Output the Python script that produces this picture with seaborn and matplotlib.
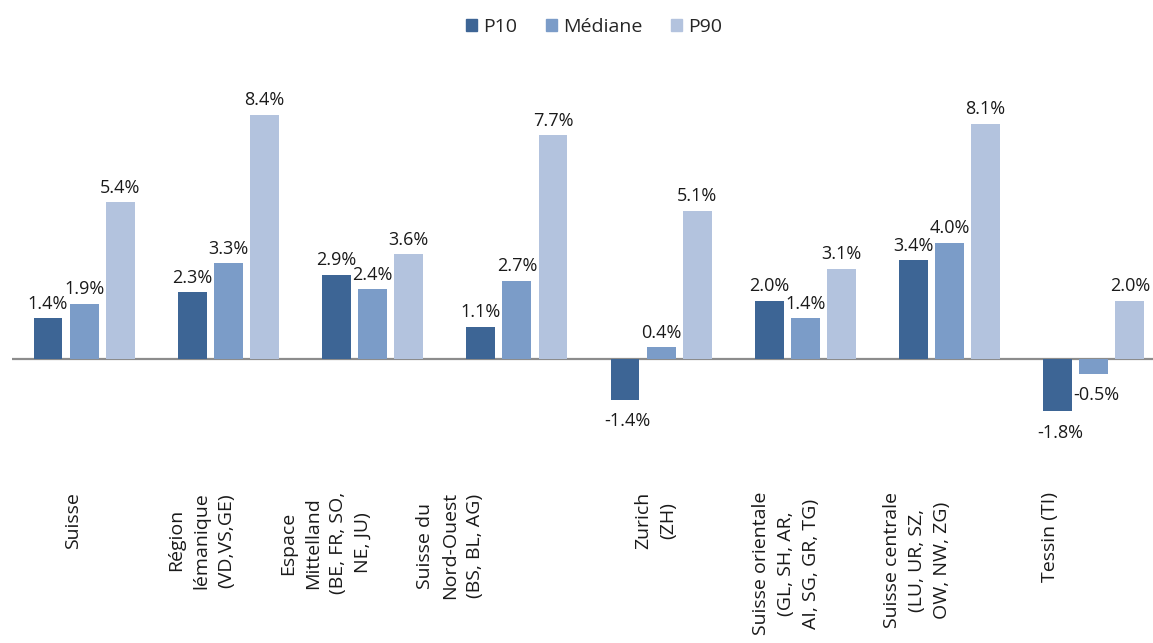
import matplotlib
matplotlib.use("Agg")
import matplotlib.pyplot as plt
import matplotlib.transforms as mtransforms
import seaborn as sns
import pandas as pd

categories = [
    "Suisse",
    "Région\nlémanique\n(VD,VS,GE)",
    "Espace\nMittelland\n(BE, FR, SO,\nNE, JU)",
    "Suisse du\nNord-Ouest\n(BS, BL, AG)",
    "Zurich\n(ZH)",
    "Suisse orientale\n(GL, SH, AR,\nAI, SG, GR, TG)",
    "Suisse centrale\n(LU, UR, SZ,\nOW, NW, ZG)",
    "Tessin (TI)",
]
series_names = ["P10", "Médiane", "P90"]
p10 = [1.4, 2.3, 2.9, 1.1, -1.4, 2.0, 3.4, -1.8]
mediane = [1.9, 3.3, 2.4, 2.7, 0.4, 1.4, 4.0, -0.5]
p90 = [5.4, 8.4, 3.6, 7.7, 5.1, 3.1, 8.1, 2.0]

colors = ["#3d6595", "#7b9cc8", "#b3c3de"]
# horizontal pixel offsets of the category labels (style only)
label_dx_px = [-11, -27, -47, -67, -5, -19, -33, -44]

rows = []
for name, vals in zip(series_names, [p10, mediane, p90]):
    for c, v in zip(categories, vals):
        rows.append({"cat": c, "series": name, "val": v})
df = pd.DataFrame(rows)

sns.set_theme(style="white")
plt.rcParams["font.family"] = ["Open Sans", "DejaVu Sans"]

W, H = 1153, 643
fig = plt.figure(figsize=(W / 100, H / 100), dpi=100)
ax = fig.add_axes([12 / W, (H - 460) / H, 1 - 12 / W, 400 / H])

sns.barplot(data=df, x="cat", y="val", hue="series", order=categories,
            hue_order=series_names, palette=colors, width=0.75, gap=0.2,
            saturation=1, ax=ax, legend=True, linewidth=0)

ppu = 29.05
ax.set_xlim(-0.5, 7.41)
ax.set_ylim(-101 / ppu, 299 / ppu)

for cont, vals in zip(ax.containers, [p10, mediane, p90]):
    for bar, v in zip(cont, vals):
        x = bar.get_x() + bar.get_width() / 2
        if v >= 0:
            ax.annotate(f"{v:.1f}%", (x, v), xytext=(0, 4), textcoords="offset points",
                        ha="center", va="bottom", fontsize=13, color="#1a1a1a")
        else:
            ax.annotate(f"{v:.1f}%", (x, v), xytext=(2, -9), textcoords="offset points",
                        ha="center", va="top", fontsize=13, color="#1a1a1a")

ax.axhline(0, color="#8c8c8c", linewidth=1.6, zorder=0.5)
for s in ax.spines.values():
    s.set_visible(False)
ax.set_yticks([])
ax.set_xlabel("")
ax.set_ylabel("")
ax.tick_params(axis="x", length=0, pad=23)
ax.set_xticks(range(len(categories)))
ax.set_xticklabels(categories, rotation=90, ha="center", va="top",
                   multialignment="center", fontsize=14, color="#1a1a1a",
                   linespacing=1.5)
for lbl, dx in zip(ax.get_xticklabels(), label_dx_px):
    lbl.set_transform(lbl.get_transform() + mtransforms.ScaledTranslation(dx / 100, 0, fig.dpi_scale_trans))

ax.legend_.remove()
handles = [plt.Rectangle((0, 0), 1, 1, color=c) for c in colors]
fig.legend(handles, series_names, loc="center", bbox_to_anchor=(594 / W, 1 - 27 / H),
           ncol=3, frameon=False, fontsize=14, handlelength=0.57, handleheight=0.57,
           handletextpad=0.3, columnspacing=1.5)

fig.savefig("out.png", dpi=100)
